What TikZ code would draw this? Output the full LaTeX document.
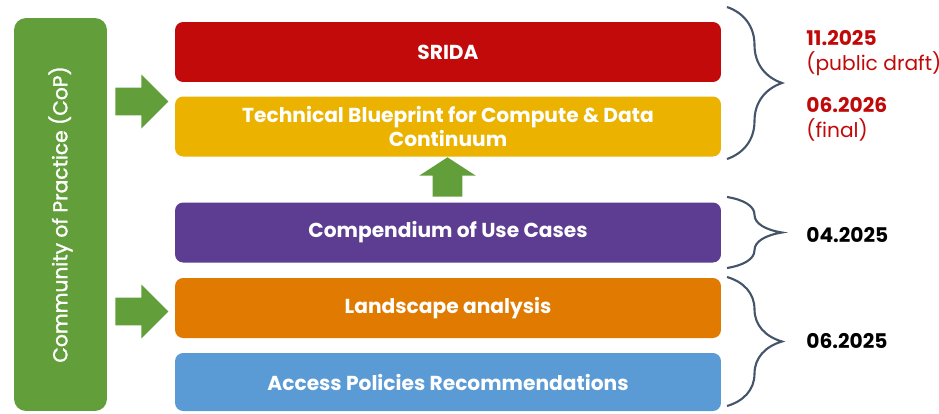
\documentclass[tikz,border=0pt]{standalone}
\usepackage{fontspec}
\setmainfont{Poppins}
\newfontfamily\copfont[FakeBold=1.6]{Poppins}
\usetikzlibrary{shapes.arrows,decorations.pathreplacing}

\definecolor{sridared}{HTML}{C20A0A}
\definecolor{bpyellow}{HTML}{EBB300}
\definecolor{ucpurple}{HTML}{5C3D91}
\definecolor{laorange}{HTML}{E07A00}
\definecolor{apblue}{HTML}{5B9BD5}
\definecolor{copgreen}{HTML}{629E3A}
\definecolor{datered}{HTML}{C00A0A}
\definecolor{braceslate}{HTML}{44546A}

\tikzset{
  box/.style={rectangle, rounded corners=0.16cm, minimum width=10.92cm,
    minimum height=1.2cm, text=white, align=center, inner sep=0pt,
    font=\fontsize{11.5}{14.2}\selectfont\bfseries},
  bigarrow/.style={single arrow, fill=copgreen, draw=none, inner sep=0pt},
  datebrace/.style={draw=braceslate, line width=1.2pt,
    decorate, decoration={brace, amplitude=1.1cm}},
  datetext/.style={anchor=west, align=left, inner sep=0pt,
    font=\fontsize{11.5}{14.2}\selectfont}
}

\begin{document}
\begin{tikzpicture}[x=0.02cm,y=-0.02cm]
\useasboundingbox (0,0) rectangle (939,413);

% Community of Practice
\node[rectangle, rounded corners=0.24cm, fill=copgreen, minimum width=1.86cm,
  minimum height=7.86cm, inner sep=0pt] (cop) at (60.5,214.5) {};
\node[rotate=90, text=white, font=\fontsize{11.5}{14}\copfont] (coptext)
  at (cop.center) {Community of Practice (CoP)};

% deliverables
\node[box, fill=sridared] (srida) at (448,52) {SRIDA};
\node[box, fill=bpyellow] (blueprint) at (448,126.5)
  {Technical Blueprint for Compute \& Data\\Continuum};
\node[box, fill=ucpurple] (usecases) at (448,232.5) {Compendium of Use Cases};
\node[box, fill=laorange] (landscape) at (448,308) {Landscape analysis};
\node[box, fill=apblue, minimum height=1.16cm] (access) at (448,382)
  {Access Policies Recommendations};

% block arrows
\node[bigarrow, anchor=tail, minimum height=1.06cm, inner ysep=0.27cm,
  single arrow head extend=0.26cm] (arrtop) at (115,101.5) {};
\node[bigarrow, anchor=tail, minimum height=1.06cm, inner ysep=0.27cm,
  single arrow head extend=0.26cm] (arrlow) at (115,311.5) {};
\node[bigarrow, anchor=tail, shape border rotate=90, minimum height=0.74cm,
  inner sep=0.29cm, single arrow head extend=0.27cm,
  single arrow tip angle=114] (arrup) at (447.5,197) {};

% braces
\coordinate (b1top) at (727,7);
\coordinate (b1bot) at (727,159);
\coordinate (b2top) at (727,197);
\coordinate (b2bot) at (727,268);
\coordinate (b3top) at (727,277);
\coordinate (b3bot) at (727,406);
\draw[datebrace] (b1top) -- (b1bot);
\draw[datebrace] (b2top) -- (b2bot);
\draw[datebrace] (b3top) -- (b3bot);

% dates
\node[datetext, text=datered] (d1) at (806,53)
  {\textbf{11.2025}\\(public draft)};
\node[datetext, text=datered] (d2) at (806,119)
  {\textbf{06.2026}\\(final)};
\node[datetext, font=\fontsize{11.5}{14.2}\selectfont\bfseries] (d3) at (806,235) {04.2025};
\node[datetext, font=\fontsize{11.5}{14.2}\selectfont\bfseries] (d4) at (806,341) {06.2025};

\end{tikzpicture}
\end{document}
